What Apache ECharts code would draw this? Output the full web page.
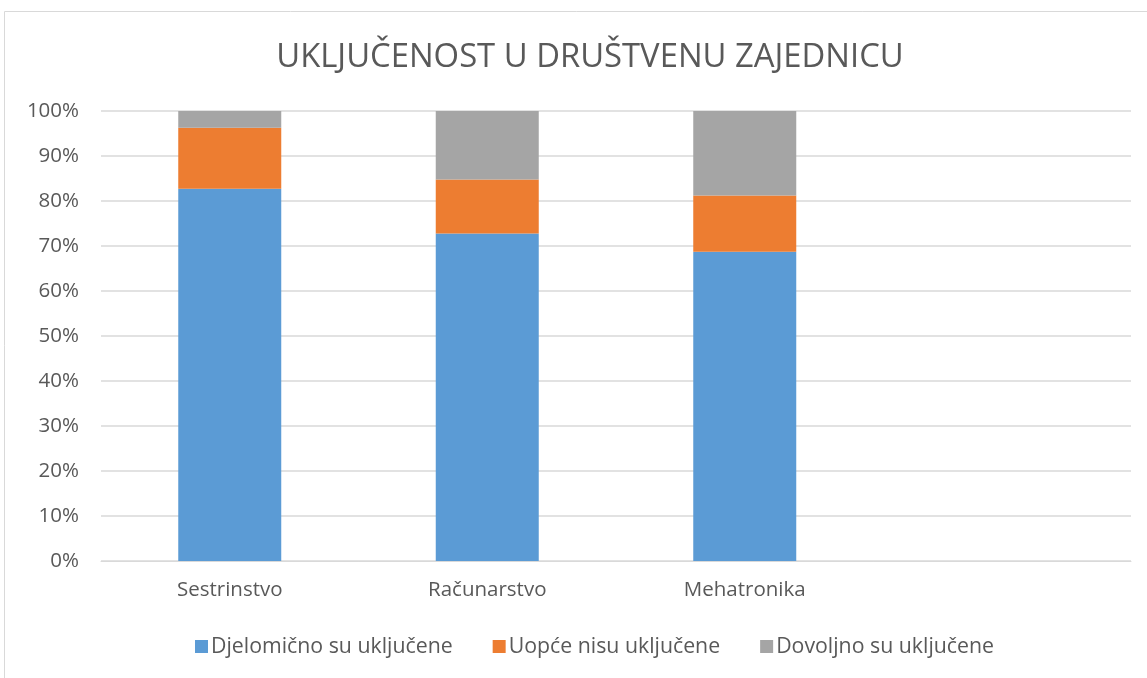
<!DOCTYPE html>
<html><head><meta charset="utf-8">
<script src="https://cdn.jsdelivr.net/npm/echarts@6/dist/echarts.min.js"></script>
<style>html,body{margin:0;padding:0;background:#fff}#c{width:1147px;height:678px}</style>
</head><body><div id="c"></div>
<script>
const categories = ['Sestrinstvo', 'Računarstvo', 'Mehatronika', ''];
const seriesNames = ['Djelomično su uključene', 'Uopće nisu uključene', 'Dovoljno su uključene'];
const djelomicno = [82.7, 72.8, 68.7, null];
const uopce = [13.6, 12.0, 12.5, null];
const dovoljno = [3.7, 15.2, 18.8, null];
const colors = ['#5B9BD5', '#ED7D31', '#A5A5A5'];
const FONT = '"Open Sans", sans-serif';

const chart = echarts.init(document.getElementById('c'));
const data = [djelomicno, uopce, dovoljno];
chart.setOption({
  animation: false,
  title: {
    text: 'UKLJUČENOST U DRUŠTVENU ZAJEDNICU',
    left: 585, top: 36, textAlign: 'center',
    textStyle: { fontFamily: FONT, fontWeight: 'normal', fontSize: 32.8, color: '#595959' }
  },
  graphic: [{ type: 'rect', shape: { x: 4.5, y: 11.5, width: 1200, height: 700 },
    style: { fill: 'none', stroke: '#d9d9d9', lineWidth: 1 }, silent: true }],
  legend: {
    left: 190, bottom: 16, itemWidth: 13, itemHeight: 13, itemGap: 40,
    icon: 'rect',
    textStyle: { fontFamily: FONT, fontSize: 21.3, color: '#595959', padding: [0,0,0,-2] },
    data: seriesNames
  },
  grid: { left: 101, right: 16, top: 111, bottom: 117, containLabel: false },
  xAxis: {
    type: 'category', data: categories,
    axisLine: { lineStyle: { color: '#d9d9d9' } }, axisTick: { show: false },
    axisLabel: { fontFamily: FONT, fontSize: 20.5, color: '#595959', margin: 19 }
  },
  yAxis: {
    type: 'value', min: 0, max: 100, interval: 10,
    axisLabel: { formatter: '{value}%', fontFamily: FONT, fontSize: 20.5, color: '#595959', margin: 22 },
    splitLine: { lineStyle: { color: '#d9d9d9', width: 1.5 } },
    axisLine: { show: false }, axisTick: { show: false }
  },
  series: seriesNames.map((n, i) => ({
    name: n, type: 'bar', stack: 'total', barWidth: '40%', data: data[i],
    itemStyle: { color: colors[i] }
  }))
});
</script></body></html>
